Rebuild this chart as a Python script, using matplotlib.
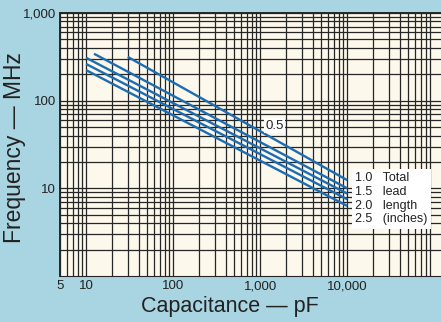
import numpy as np
import matplotlib.pyplot as plt
from matplotlib.ticker import LogLocator, FixedLocator, NullFormatter

plt.rcParams['font.family'] = ['Liberation Sans', 'DejaVu Sans']

# total lead length (inches) and the two end points of each line
lead_lengths = ['0.5', '1.0', '1.5', '2.0', '2.5']
lead_words = ['', 'Total', 'lead', 'length', '(inches)']
cap_start = [30, 12.3, 10, 10, 10]          # pF
freq_start = [316, 343, 308, 262, 223]      # MHz
cap_end = [10000, 10000, 10000, 10000, 10000]
freq_end = [12.4, 10.0, 8.7, 7.5, 6.3]

x_ticks = [5, 10, 100, 1000, 10000]
x_tick_labels = ['5', '10', '100', '1,000', '10,000']
y_ticks = [10, 100, 1000]
y_tick_labels = ['10', '100', '1,000']

outer_bg = '#a9d4e1'
paper_bg = '#fcf8ec'
grid_col = '#262626'
line_col = '#1d6db3'
text_col = '#222222'

fig = plt.figure(figsize=(4.41, 3.22), dpi=100, facecolor=outer_bg)
ax = fig.add_axes([60 / 441, 46 / 322, 381 / 441, 263 / 322])
ax.set_facecolor(paper_bg)
ax.set_xscale('log')
ax.set_yscale('log')
ax.set_xlim(5, 10 ** 5.078)
ax.set_ylim(1, 1000)

# log paper grid
ax.xaxis.set_major_locator(FixedLocator(x_ticks))
ax.xaxis.set_minor_locator(LogLocator(base=10, subs=np.arange(2, 10), numticks=20))
ax.yaxis.set_major_locator(FixedLocator(y_ticks))
ax.yaxis.set_minor_locator(LogLocator(base=10, subs=np.arange(2, 10), numticks=20))
ax.xaxis.set_minor_formatter(NullFormatter())
ax.yaxis.set_minor_formatter(NullFormatter())
ax.set_xticklabels(x_tick_labels)
ax.set_yticklabels(y_tick_labels)
ax.grid(True, which='both', color=grid_col, linewidth=0.9)
ax.set_axisbelow(True)
ax.tick_params(which='both', length=0, labelsize=9.5, colors=text_col, pad=3)

for side in ['left', 'top']:
    ax.spines[side].set_color(grid_col)
    ax.spines[side].set_linewidth(1.4)
ax.spines['right'].set_visible(False)
ax.spines['bottom'].set_color(grid_col)

for i in range(len(lead_lengths)):
    ax.plot([cap_start[i], cap_end[i]], [freq_start[i], freq_end[i]],
            color=line_col, linewidth=1.7, solid_capstyle='butt', zorder=3)

# label for the shortest lead, on the chart
ax.text(1150, 52, lead_lengths[0], fontsize=9.5, color=text_col, va='center',
        ha='left', bbox=dict(facecolor='white', edgecolor='none', pad=1), zorder=4)

# key for the other leads, beside the line ends
key = '\n'.join(f'{n}   {w}' for n, w in zip(lead_lengths[1:], lead_words[1:]))
ax.text(12300, 7.6, key, fontsize=9, color=text_col, va='center', ha='left',
        linespacing=1.2,
        bbox=dict(facecolor='white', edgecolor='none', pad=2.5), zorder=4)

ax.set_xlabel('Capacitance \u2014 pF', fontsize=15.5, color=text_col)
ax.set_ylabel('Frequency \u2014 MHz', fontsize=16.5, color=text_col)
ax.xaxis.set_label_coords(0.445, -0.075)
ax.yaxis.set_label_coords(-0.088, 0.49)

fig.savefig('out.png', dpi=100, facecolor=outer_bg)
